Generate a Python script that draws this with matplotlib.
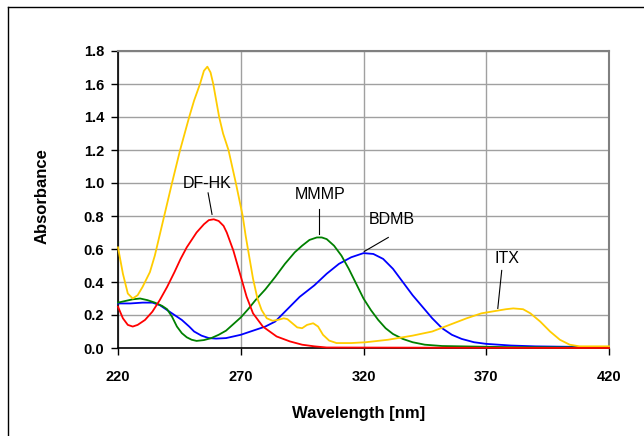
import matplotlib
matplotlib.use("Agg")
import matplotlib.pyplot as plt
from matplotlib.lines import Line2D

# --- Spectra (wavelength in nm, absorbance) ---
itx_nm = [220, 222, 224, 226, 228, 230, 233, 235, 238.5, 242, 245.3, 249, 251,
          253.4, 255, 256.4, 257.7, 258.8, 260, 261.2, 262.8, 265, 268, 270.8, 272,
          273.5, 275, 276.8, 278.5, 280.6, 283, 285, 287.5, 289, 291, 293, 295, 297,
          299.5, 301.5, 303.5, 306, 309, 315, 321, 330, 340, 348, 355, 362, 368,
          374, 378, 381, 385, 388, 392, 396, 400, 404, 408, 420]
itx_abs = [0.61, 0.45, 0.33, 0.30, 0.32, 0.37, 0.46, 0.56, 0.78, 1.00, 1.20, 1.40,
           1.50, 1.60, 1.68, 1.705, 1.67, 1.60, 1.50, 1.40, 1.30, 1.20, 1.00, 0.80,
           0.68, 0.55, 0.42, 0.30, 0.23, 0.18, 0.165, 0.17, 0.18, 0.175, 0.15,
           0.125, 0.12, 0.14, 0.15, 0.13, 0.08, 0.045, 0.03, 0.03, 0.035, 0.05,
           0.075, 0.10, 0.14, 0.18, 0.21, 0.225, 0.235, 0.24, 0.235, 0.21, 0.16,
           0.10, 0.05, 0.02, 0.01, 0.01]

dfhk_nm = [220, 222, 224, 226, 228, 231, 234, 237, 240, 243, 245.5, 248, 252, 255,
           257, 259, 261, 263, 264.3, 267, 269.7, 272.4, 275, 279, 284.6, 290, 295,
           300, 305, 420]
dfhk_abs = [0.25, 0.18, 0.14, 0.13, 0.14, 0.17, 0.22, 0.29, 0.37, 0.46, 0.54, 0.61,
            0.70, 0.75, 0.775, 0.78, 0.77, 0.74, 0.70, 0.59, 0.45, 0.31, 0.21, 0.13,
            0.07, 0.04, 0.02, 0.01, 0.003, 0.0]

mmmp_nm = [220, 223, 226, 229, 232, 235, 238, 240, 242, 244, 246, 248, 250, 252,
           255, 258, 261, 264, 267, 270, 273, 276, 280, 284, 288, 292, 295, 298,
           301, 303, 305, 308, 311, 314, 317, 320, 323, 326, 329, 332, 336, 340,
           345, 352, 360, 380, 420]
mmmp_abs = [0.275, 0.285, 0.295, 0.30, 0.29, 0.275, 0.255, 0.235, 0.19, 0.13, 0.09,
            0.065, 0.05, 0.043, 0.048, 0.06, 0.08, 0.105, 0.145, 0.185, 0.235, 0.29,
            0.355, 0.43, 0.51, 0.58, 0.62, 0.655, 0.67, 0.67, 0.66, 0.62, 0.56, 0.48,
            0.39, 0.30, 0.23, 0.17, 0.12, 0.085, 0.055, 0.035, 0.02, 0.012, 0.01,
            0.005, 0.003]

bdmb_nm = [220, 225, 230, 234, 237, 240, 243, 246, 249, 251, 254, 257, 260, 264,
           267, 270, 274, 277, 280, 284, 289, 294, 300, 305, 310, 315, 320, 324,
           328, 332, 336, 340, 344, 348, 352, 356, 360, 365, 370, 380, 390, 400, 420]
bdmb_abs = [0.27, 0.27, 0.275, 0.275, 0.26, 0.23, 0.20, 0.17, 0.13, 0.10, 0.075,
            0.06, 0.057, 0.06, 0.07, 0.08, 0.10, 0.115, 0.13, 0.16, 0.235, 0.31,
            0.38, 0.45, 0.51, 0.55, 0.575, 0.57, 0.54, 0.48, 0.40, 0.32, 0.25,
            0.18, 0.12, 0.08, 0.055, 0.035, 0.025, 0.015, 0.01, 0.008, 0.005]

# label text position, leader start, leader end (data coords)
labels = [
    ("DF-HK", (256.3, 1.00), (256.7, 0.94), (258.3, 0.81)),
    ("MMMP", (302.3, 0.93), (301.9, 0.84), (301.9, 0.69)),
    ("BDMB", (331.5, 0.78), (330.1, 0.67), (320.3, 0.585)),
    ("ITX", (378.4, 0.54), (376.3, 0.47), (374.7, 0.24)),
]

x_ticks = [220, 270, 320, 370, 420]
y_ticks = [0.0, 0.2, 0.4, 0.6, 0.8, 1.0, 1.2, 1.4, 1.6, 1.8]

plt.rcParams['font.family'] = ['Liberation Sans', 'DejaVu Sans']

fig = plt.figure(figsize=(6.44, 4.36), dpi=100)
ax = fig.add_axes([118 / 644, 88 / 436, 491 / 644, 297 / 436])

# outer chart border (only left and top edges fall inside the image)
fig.add_artist(Line2D([7.5 / 644, 7.5 / 644], [0, 1 - 7.5 / 436],
                      transform=fig.transFigure, color='black', lw=1.0))
fig.add_artist(Line2D([7.5 / 644, 1], [1 - 7.5 / 436, 1 - 7.5 / 436],
                      transform=fig.transFigure, color='black', lw=1.0))

series = [
    (bdmb_nm, bdmb_abs, '#0000FF'),
    (mmmp_nm, mmmp_abs, '#008000'),
    (itx_nm, itx_abs, '#FFCC00'),
    (dfhk_nm, dfhk_abs, '#FF0000'),
]
for nm, ab, col in series:
    ax.plot(nm, ab, color=col, lw=1.3, zorder=3, clip_on=False)

ax.set_xlim(220, 420)
ax.set_ylim(0, 1.8)
ax.set_xticks(x_ticks)
ax.set_yticks(y_ticks)
ax.set_xticklabels([str(t) for t in x_ticks])
ax.set_yticklabels([f"{t:.1f}" for t in y_ticks])
ax.grid(True, color='#A0A0A0', lw=1.0, zorder=0)
ax.set_axisbelow(True)

for side in ('left', 'bottom'):
    ax.spines[side].set_color('black')
    ax.spines[side].set_linewidth(1.2)
for side in ('top', 'right'):
    ax.spines[side].set_color('#808080')
    ax.spines[side].set_linewidth(1.5)

ax.tick_params(axis='both', direction='out', length=5, width=1, color='black',
               labelsize=10.5)
ax.tick_params(axis='y', pad=5)
ax.tick_params(axis='x', pad=11)
for lab in ax.get_xticklabels() + ax.get_yticklabels():
    lab.set_fontweight('bold')

ax.set_xlabel('Wavelength [nm]', fontsize=12, fontweight='bold', va='center')
ax.set_ylabel('Absorbance', fontsize=12, fontweight='bold', va='center')
ax.xaxis.set_label_coords(0.49, -0.219)
ax.yaxis.set_label_coords(-0.155, 0.51)

for text, pos, start, end in labels:
    ax.text(pos[0], pos[1], text, fontsize=11.5, ha='center', va='center', zorder=5)
    ax.plot([start[0], end[0]], [start[1], end[1]], color='black', lw=0.8, zorder=4)

fig.savefig('out.png', dpi=100)
